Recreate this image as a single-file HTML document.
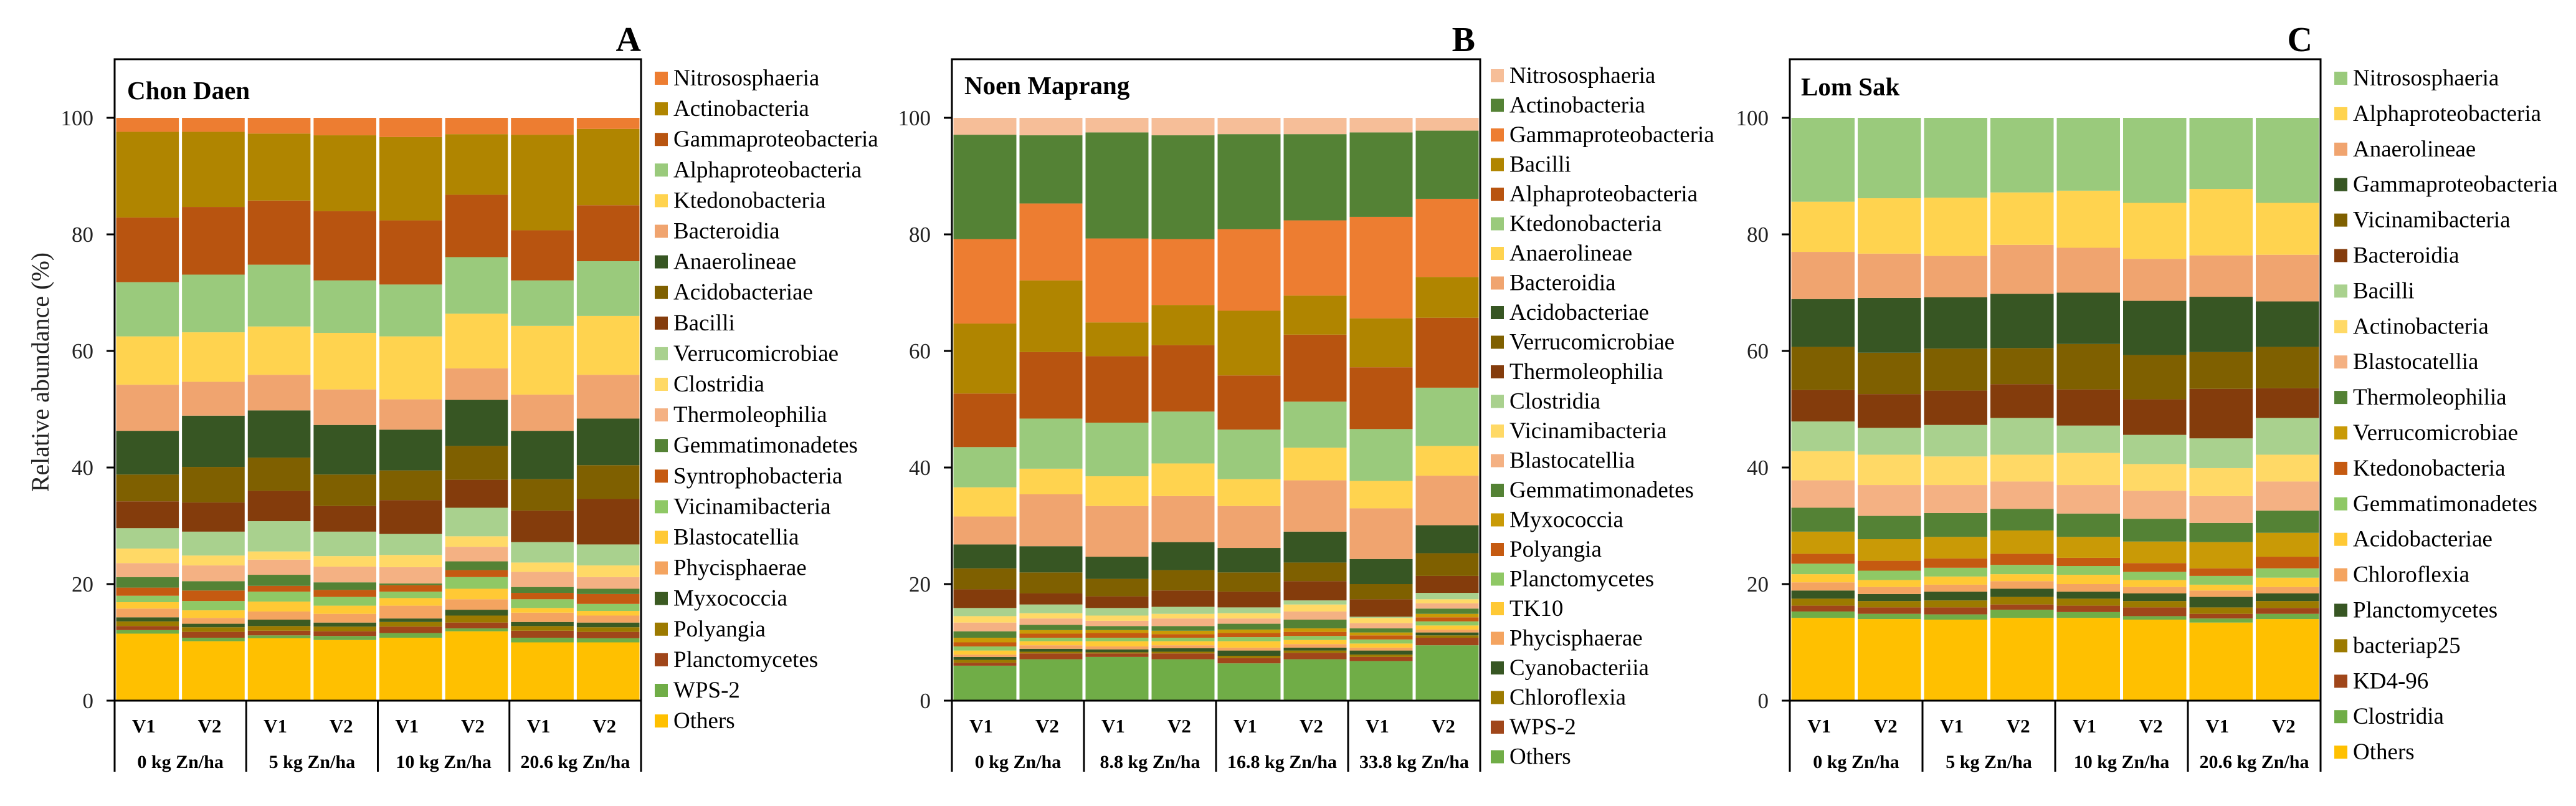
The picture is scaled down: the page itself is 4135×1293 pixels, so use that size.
<!DOCTYPE html>
<html><head><meta charset="utf-8"><style>
html,body{margin:0;padding:0;background:#fff;}
svg, svg text{font-family:"Liberation Serif","DejaVu Serif",serif;}
</style></head><body>
<svg id="chart" width="4135" height="1288" viewBox="0 0 4135 1288" xmlns="http://www.w3.org/2000/svg" font-family="'Liberation Serif', 'DejaVu Serif', serif"></svg>
<script>
// ---------- shared categories ----------
const varieties = ["V1","V2","V1","V2","V1","V2","V1","V2"];
const groupsA = ["0 kg Zn/ha","5 kg Zn/ha","10 kg Zn/ha","20.6 kg Zn/ha"];
const groupsB = ["0 kg Zn/ha","8.8 kg Zn/ha","16.8 kg Zn/ha","33.8 kg Zn/ha"];
const groupsC = ["0 kg Zn/ha","5 kg Zn/ha","10 kg Zn/ha","20.6 kg Zn/ha"];
const yTicks = [0,20,40,60,80,100];

// ---------- Panel A (Chon Daen): series bottom->top, cumulative tops (%) ----------
const seriesA = ["Others","WPS-2","Planctomycetes","Polyangia","Myxococcia","Phycisphaerae","Blastocatellia","Vicinamibacteria","Syntrophobacteria","Gemmatimonadetes","Thermoleophilia","Clostridia","Verrucomicrobiae","Bacilli","Acidobacteriae","Anaerolineae","Bacteroidia","Ktedonobacteria","Alphaproteobacteria","Gammaproteobacteria","Actinobacteria","Nitrososphaeria"];
const colorsA = ["#FFC000","#70AD47","#A0461A","#9C7A00","#3B5A22","#F4A460","#FFC935","#8FC865","#C55A11","#548235","#F4B183","#FFD966","#A9D18E","#843C0C","#7F6000","#375623","#F0A46F","#FFD34F","#9ACA7C","#B85410","#B08500","#ED7D31"];
const topsA = [
[11.5,10.2,10.7,10.4,10.8,11.9,10.0,10.0],
[12.1,10.8,11.2,11.1,11.6,12.4,10.8,10.7],
[12.8,11.8,12.0,11.9,12.7,13.4,12.0,11.8],
[13.6,12.6,12.8,12.7,13.5,14.6,12.8,12.6],
[14.3,13.2,13.9,13.4,14.1,15.6,13.5,13.4],
[15.8,14.2,15.3,14.9,16.3,17.4,15.1,14.6],
[16.9,15.5,17.0,16.3,17.6,19.2,15.9,15.4],
[18.0,17.1,18.7,17.8,18.7,21.2,17.4,16.6],
[19.4,18.9,19.7,19.0,19.8,22.4,18.5,18.3],
[21.2,20.5,21.6,20.3,20.1,23.9,19.5,19.2],
[23.6,23.2,24.2,23.0,22.9,26.4,22.1,21.2],
[26.1,24.9,25.6,24.8,25.0,28.2,23.7,23.2],
[29.6,29.0,30.8,29.0,28.6,33.1,27.2,26.8],
[34.2,34.0,36.0,33.4,34.4,37.9,32.6,34.6],
[38.8,40.1,41.7,38.8,39.5,43.7,38.0,40.4],
[46.3,48.9,49.8,47.3,46.5,51.6,46.3,48.4],
[54.2,54.7,55.9,53.4,51.7,57.0,52.5,55.9],
[62.5,63.2,64.2,63.1,62.5,66.4,64.3,66.0],
[71.8,73.1,74.8,72.1,71.4,76.1,72.1,75.4],
[82.9,84.7,85.8,84.0,82.4,86.8,80.7,85.0],
[97.6,97.6,97.3,97.0,96.7,97.2,97.1,98.1],
[100,100,100,100,100,100,100,100]];

// ---------- Panel B (Noen Maprang) ----------
const seriesB = ["Others","WPS-2","Chloroflexia","Cyanobacteriia","Phycisphaerae","TK10","Planctomycetes","Polyangia","Myxococcia","Gemmatimonadetes","Blastocatellia","Vicinamibacteria","Clostridia","Thermoleophilia","Verrucomicrobiae","Acidobacteriae","Bacteroidia","Anaerolineae","Ktedonobacteria","Alphaproteobacteria","Bacilli","Gammaproteobacteria","Actinobacteria","Nitrososphaeria"];
const colorsB = ["#70AD47","#A0461A","#9C7A00","#375623","#F4A460","#FFC935","#8FC865","#C55A11","#C99A06","#548235","#F4B183","#FFD966","#A9D18E","#843C0C","#7F6000","#375623","#F0A46F","#FFD34F","#9ACA7C","#B85410","#B08500","#ED7D31","#548235","#F6BE98"];
const topsB = [
[6.0,7.1,7.5,7.1,6.4,7.1,6.8,9.5],
[6.5,8.1,8.1,8.1,7.3,8.2,7.5,10.8],
[7.0,8.4,8.3,8.4,7.7,8.6,7.9,11.2],
[7.5,8.9,8.8,9.0,8.6,9.1,8.6,11.7],
[7.9,9.5,9.3,9.5,9.1,9.7,9.1,12.2],
[8.6,10.2,10.2,10.2,10.2,10.4,9.8,12.9],
[9.3,10.8,10.8,10.8,10.9,11.1,10.5,13.6],
[10.0,11.5,11.6,11.4,11.6,11.8,11.2,14.3],
[10.8,12.1,12.1,12.0,12.2,12.4,11.7,14.9],
[11.9,13.0,12.8,12.8,13.2,13.9,12.4,15.8],
[13.4,14.1,13.7,14.1,14.1,15.3,13.3,16.7],
[14.5,15.0,14.6,14.9,15.0,16.5,14.2,17.4],
[15.9,16.5,15.9,16.1,16.0,17.2,14.4,18.5],
[19.1,18.4,17.9,18.9,18.7,20.5,17.4,21.4],
[22.7,22.0,20.9,22.4,22.0,23.7,20.0,25.3],
[26.8,26.5,24.7,27.2,26.2,29.0,24.3,30.1],
[31.6,35.4,33.4,35.1,33.4,37.8,33.0,38.6],
[36.6,39.8,38.5,40.7,38.0,43.4,37.7,43.7],
[43.5,48.4,47.7,49.6,46.5,51.3,46.6,53.7],
[52.7,59.8,59.1,61.0,55.8,62.8,57.2,65.7],
[64.7,72.1,64.9,67.9,66.9,69.5,65.6,72.7],
[79.2,85.3,79.3,79.2,80.9,82.4,83.0,86.1],
[97.1,97.0,97.5,97.0,97.2,97.2,97.5,97.8],
[100,100,100,100,100,100,100,100]];

// ---------- Panel C (Lom Sak) ----------
const seriesC = ["Others","Clostridia","KD4-96","bacteriap25","Planctomycetes","Chloroflexia","Acidobacteriae","Gemmatimonadetes","Ktedonobacteria","Verrucomicrobiae","Thermoleophilia","Blastocatellia","Actinobacteria","Bacilli","Bacteroidia","Vicinamibacteria","Gammaproteobacteria","Anaerolineae","Alphaproteobacteria","Nitrososphaeria"];
const colorsC = ["#FFC000","#70AD47","#A0461A","#9C7A00","#375623","#F4A460","#FFC935","#8FC865","#C55A11","#C99A06","#548235","#F4B183","#FFD966","#A9D18E","#843C0C","#7F6000","#375623","#F0A46F","#FFD34F","#9ACA7C"];
const topsC = [
[14.2,14.0,13.9,14.2,14.2,13.9,13.4,14.0],
[15.3,14.9,14.8,15.6,15.2,14.5,14.1,14.9],
[16.3,16.0,16.0,16.5,16.3,16.0,14.9,15.9],
[17.5,17.1,17.2,17.8,17.5,17.1,16.0,17.1],
[18.9,18.3,18.7,19.2,18.7,18.4,17.8,18.4],
[20.3,19.5,19.9,20.5,20.0,19.5,18.9,19.5],
[21.7,20.7,21.3,21.7,21.6,20.7,19.9,21.1],
[23.5,22.3,22.8,23.3,23.1,22.1,21.4,22.7],
[25.2,24.0,24.4,25.2,24.5,23.6,22.7,24.7],
[29.0,27.7,28.1,29.2,28.1,27.3,27.2,28.8],
[33.1,31.7,32.2,32.9,32.1,31.2,30.5,32.6],
[37.8,37.0,37.0,37.6,37.0,36.0,35.1,37.6],
[42.8,42.2,41.9,42.2,42.5,40.6,39.9,42.2],
[47.9,46.8,47.3,48.5,47.2,45.6,45.0,48.5],
[53.3,52.6,53.2,54.3,53.4,51.7,53.5,53.6],
[60.7,59.7,60.4,60.5,61.2,59.3,59.8,60.7],
[68.9,69.1,69.2,69.8,70.0,68.6,69.3,68.5],
[77.0,76.7,76.3,78.2,77.7,75.8,76.4,76.5],
[85.6,86.2,86.3,87.2,87.5,85.4,87.8,85.4],
[100,100,100,100,100,100,100,100]];

const svg = document.getElementById('chart');
const NS = "http://www.w3.org/2000/svg";
const SERIF = "'Liberation Serif', 'DejaVu Serif', serif";
function mk(tag, attrs, parent){
  const e = document.createElementNS(NS, tag);
  for (const k in attrs) e.setAttribute(k, attrs[k]);
  if (tag === 'text') e.setAttribute('font-family', SERIF);
  (parent||svg).appendChild(e);
  return e;
}
const Y0 = 1124, Y100 = 189, FTOP = 95, XBOT = 1238;
function yScale(v){ return Y0 - (Y0 - Y100) * v / 100; }

function panel(p){
  const g = mk('g', {});
  
  
  const L = p.left, R = p.right, n = varieties.length;
  const slot = (R - L) / n;
  function xScale(i){ return L + i * slot; }
  for (let i = 0; i < n; i++){
    let prev = 0;
    for (let s = 0; s < p.series.length; s++){
      const top = p.tops[s][i];
      const y1 = yScale(top), y2 = yScale(prev);
      const r = mk('rect', {x: xScale(i) + 2.5, y: y1, width: slot - 5, height: Math.max(0, y2 - y1), fill: p.colors[s]}, g);
      
      
      prev = top;
    }
  }
  const fr = mk('rect', {x: L, y: FTOP, width: R - L, height: Y0 - FTOP, fill: 'none', stroke: '#000', 'stroke-width': 3}, g);
  
  
  yTicks.forEach(t => {
    const y = yScale(t);
    const tk = mk('line', {x1: L - 13, x2: L, y1: y, y2: y, stroke: '#000', 'stroke-width': 3}, g);
    
    
    const tl = mk('text', {x: L - 34, y: y + 12, 'text-anchor': 'end', 'font-size': 35, fill: '#222'}, g);
    tl.textContent = t;
    
    
  });
  for (let k = 0; k <= 4; k++){
    const x = L + k * 2 * slot;
    const ln = mk('line', {x1: x, x2: x, y1: Y0, y2: XBOT, stroke: '#000', 'stroke-width': 3}, g);
    
    
  }
  for (let i = 0; i < n; i++){
    const t = mk('text', {x: xScale(i) + slot/2 - 6, y: 1175, 'text-anchor': 'middle', 'font-size': 31, 'font-weight': 'bold'}, g);
    t.textContent = varieties[i];
    
    
  }
  p.groups.forEach((gl, k) => {
    const t = mk('text', {x: L + (k*2+1) * slot, y: 1232, 'text-anchor': 'middle', 'font-size': 30, 'font-weight': 'bold'}, g);
    t.textContent = gl;
    
    
  });
  const st = mk('text', {x: p.titleX, y: p.titleY, 'font-size': 41, 'font-weight': 'bold'}, g);
  st.textContent = p.title;
  
  
  const pl = mk('text', {x: p.letterX, y: 82, 'font-size': 56, 'font-weight': 'bold', 'text-anchor': 'end'}, g);
  pl.textContent = p.letter;
  
  
  const m = p.series.length;
  for (let j = 0; j < m; j++){
    const s = m - 1 - j;
    const cy = p.legTop + j * p.legStep;
    const lg = mk('g', {}, g);
    
    
    mk('rect', {x: p.legX, y: cy - 10, width: 21, height: 21, fill: p.colors[s]}, lg);
    const lt = mk('text', {x: p.legX + 30, y: cy + 12, 'font-size': 37}, lg);
    lt.textContent = p.series[s];
  }
}

panel({key:'chon-daen', left:184, right:1029, series:seriesA, colors:colorsA, tops:topsA, groups:groupsA,
  title:'Chon Daen', titleX:204, titleY:159, letter:'A', letterX:1029, legX:1051, legTop:125, legStep:49.1});
panel({key:'noen-maprang', left:1528, right:2376, series:seriesB, colors:colorsB, tops:topsB, groups:groupsB,
  title:'Noen Maprang', titleX:1548, titleY:151, letter:'B', letterX:2368, legX:2393, legTop:121, legStep:47.5});
panel({key:'lom-sak', left:2873, right:3725, series:seriesC, colors:colorsC, tops:topsC, groups:groupsC,
  title:'Lom Sak', titleX:2891, titleY:153, letter:'C', letterX:3712, legX:3747, legTop:125, legStep:56.9});

const yt = mk('text', {x: 0, y: 0, 'font-size': 40, 'text-anchor': 'middle', transform: 'translate(78,597) rotate(-90)', fill: '#222'});
yt.textContent = 'Relative abundance (%)';


</script>
</body></html>
